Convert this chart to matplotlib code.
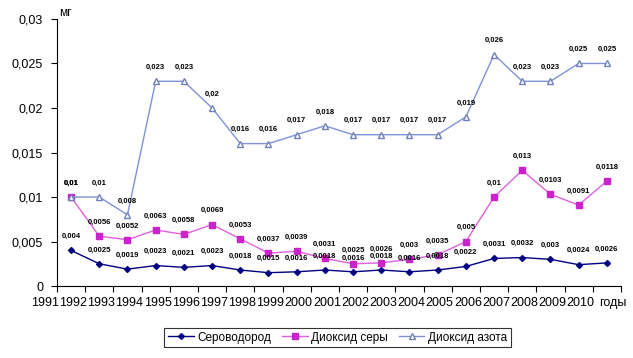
import matplotlib
matplotlib.use('Agg')
import matplotlib.pyplot as plt
import matplotlib.transforms as mtransforms
from matplotlib.ticker import FuncFormatter, FixedLocator

plt.rcParams['font.family'] = ['Liberation Sans', 'DejaVu Sans']

# Data
x_labels = [str(y) for y in range(1991, 2011)] + ['годы']
h2s = [0.004, 0.0025, 0.0019, 0.0023, 0.0021, 0.0023, 0.0018, 0.0015, 0.0016, 0.0018,
       0.0016, 0.0018, 0.0016, 0.0018, 0.0022, 0.0031, 0.0032, 0.003, 0.0024, 0.0026]
so2 = [0.01, 0.0056, 0.0052, 0.0063, 0.0058, 0.0069, 0.0053, 0.0037, 0.0039, 0.0031,
       0.0025, 0.0026, 0.003, 0.0035, 0.005, 0.01, 0.013, 0.0103, 0.0091, 0.0118]
no2 = [0.01, 0.01, 0.008, 0.023, 0.023, 0.02, 0.016, 0.016, 0.017, 0.018,
       0.017, 0.017, 0.017, 0.017, 0.019, 0.026, 0.023, 0.023, 0.025, 0.025]
series_names = ['Сероводород', 'Диоксид серы', 'Диоксид азота']

def comma(v):
    return ('%g' % v).replace('.', ',')

fig = plt.figure(figsize=(6.33, 3.58), dpi=100)
ax = fig.add_axes([0.090, 0.201, 0.891, 0.746])

xs = list(range(len(h2s)))
ax.plot(xs, h2s, color='#000080', lw=1, marker='D', ms=3, label=series_names[0])
ax.plot(xs, so2, color='#E060E0', lw=1, marker='s', ms=4, mfc='#CC22CC', mec='#CC22CC',
        label=series_names[1])
ax.plot(xs, no2, color='#7F92D6', lw=1, marker='^', ms=4, mfc='white', mec='#7080B8',
        label=series_names[2])

# data labels
for ser in (h2s, so2, no2):
    for x, v in zip(xs, ser):
        ax.annotate(comma(v), (x, v), xytext=(0, 10), textcoords='offset points',
                    ha='center', va='center', fontsize=5.5, fontweight='bold')

ax.set_xlim(-0.5, len(h2s) - 0.5)
ax.set_ylim(0, 0.03)

# category boundary ticks; year labels sit a bit left of each tick, as in the original
ax.xaxis.set_major_locator(FixedLocator([k - 0.5 for k in range(len(x_labels))]))
ax.xaxis.set_major_formatter(FuncFormatter(lambda v, p: ''))
ax.tick_params(axis='x', which='major', length=4, direction='out')
trans = mtransforms.blended_transform_factory(ax.transData, ax.transAxes)
for k, lab in enumerate(x_labels):
    xpos = k - 0.93 if k < len(x_labels) - 1 else k - 0.78
    ax.text(xpos, -0.042, lab, transform=trans, ha='center', va='top',
            fontsize=9, clip_on=False)

ax.set_yticks([0, 0.005, 0.01, 0.015, 0.02, 0.025, 0.03])
ax.yaxis.set_major_formatter(FuncFormatter(lambda v, p: comma(round(v, 3))))
ax.tick_params(axis='y', labelsize=9, length=4, direction='out', pad=6)

for side in ('top', 'right'):
    ax.spines[side].set_visible(False)

ax.text(0.004, 1.0, 'мг', transform=ax.transAxes, fontsize=8.5, ha='left', va='bottom')

leg = fig.legend(loc='center', bbox_to_anchor=(0.533, 0.057), ncol=3, fontsize=8.5,
                 frameon=True, fancybox=False, edgecolor='black', handlelength=2.2,
                 handletextpad=0.3, columnspacing=0.9, borderpad=0.3)
leg.get_frame().set_linewidth(0.8)

fig.savefig('out.png', dpi=100)
